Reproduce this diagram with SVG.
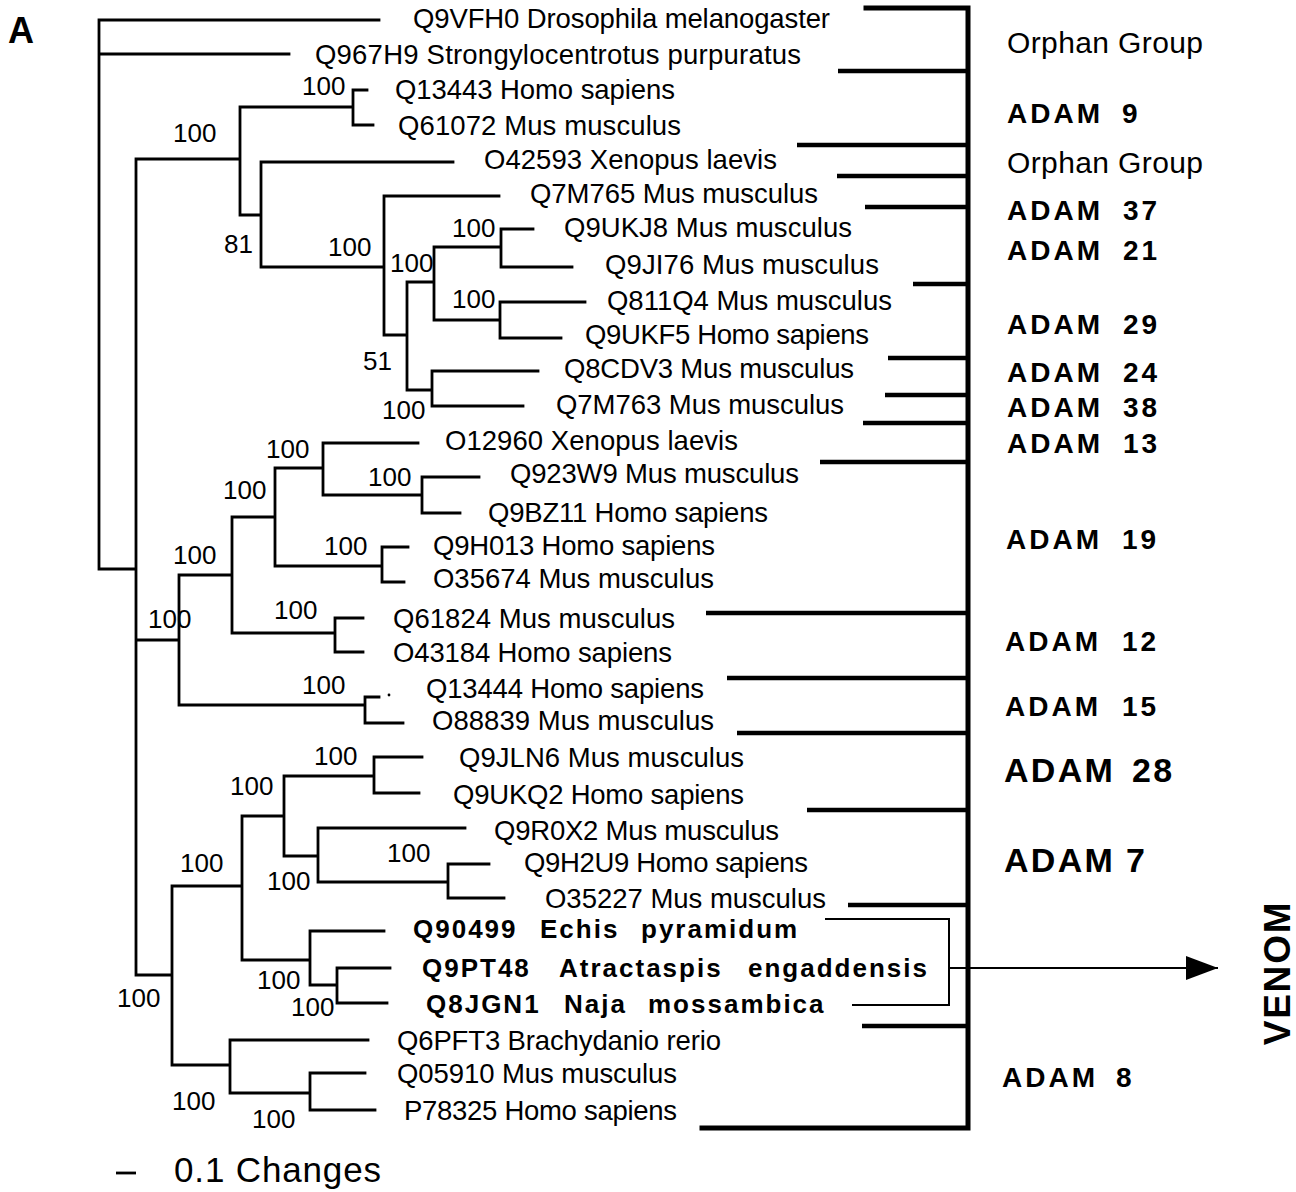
<svg xmlns="http://www.w3.org/2000/svg" width="1296" height="1192" viewBox="0 0 1296 1192">
<style>
text{font-family:"Liberation Sans",Arial,Helvetica,sans-serif;fill:#000}
.t{font-size:27.5px}
.b{font-size:26px;font-weight:bold;letter-spacing:2px}
.n{font-size:26px}
.g{font-size:28px;font-weight:bold;letter-spacing:3px}
.gl{font-size:34px;font-weight:bold;letter-spacing:2.3px}
.o{font-size:30px}
.br{stroke:#000;stroke-width:2.8;fill:none;stroke-linecap:square}
.bk{stroke:#000;stroke-width:5;fill:none;stroke-linecap:square}
.tk{stroke:#000;stroke-width:4.5;fill:none}
.thin{stroke:#000;stroke-width:2;fill:none}
</style>
<defs>
<marker id="ah" viewBox="0 0 32 24" refX="32" refY="12" markerWidth="32" markerHeight="24" markerUnits="userSpaceOnUse" orient="auto">
<path d="M0,0 L32,12 L0,24 z" fill="#000"/>
</marker>
</defs>
<rect width="1296" height="1192" fill="#fff"/>
<text x="8" y="43" style="font-size:36px;font-weight:bold">A</text>

<g id="connectors">
<path class="br" d="M99,20 V569 M99,20 H379 M99,54 H289 M99,569 H136
M136,159 V975 M136,159 H240 M136,640 H179 M136,975 H172
M240,107 V215 M240,107 H353 M353,90 V125 M353,90 H367 M353,125 H373 M240,215 H261
M261,162 V267 M261,162 H453 M261,267 H384
M384,196 V335 M384,196 H499 M384,335 H407
M407,282 V390 M407,282 H434 M407,390 H432
M434,247 V320 M434,247 H501 M434,320 H500
M501,229 V267 M501,229 H533 M501,267 H572
M500,302 V338 M500,302 H585 M500,338 H561
M432,371 V406 M432,371 H538 M432,406 H523
M179,575 V705 M179,575 H232 M179,705 H365
M232,517 V633 M232,517 H275 M232,633 H335
M275,468 V566 M275,468 H323 M275,566 H382
M323,443 V495 M323,443 H418 M323,495 H422
M422,477 V513 M422,477 H479 M422,513 H460
M382,547 V582 M382,547 H408 M382,582 H404
M335,618 V652 M335,618 H363 M335,652 H363
M365,697 V723 M365,697 H379 M365,723 H403
M172,886 V1065 M172,886 H242 M172,1065 H230
M242,816 V960 M242,816 H284 M242,960 H310
M284,776 V856 M284,776 H374 M284,856 H318
M374,757 V793 M374,757 H422 M374,793 H419
M318,828 V882 M318,828 H465 M318,882 H448
M448,864 V898 M448,864 H489 M448,898 H504
M310,931 V985 M310,931 H384 M310,985 H337
M337,968 V1003 M337,968 H390 M337,1003 H387
M230,1040 V1093 M230,1040 H368 M230,1093 H310
M310,1073 V1110 M310,1073 H365 M310,1110 H375"/>
<circle cx="389" cy="695" r="1.4" fill="#000"/>
<path class="bk" d="M866,8 H968 V1128 H702"/>
<path class="tk" d="M838,71 H968 M797,145 H968 M837,176 H968 M865,207 H968 M913,284 H968 M888,358 H968 M885,395 H968 M863,423 H968 M820,462 H968 M706,613 H968 M727,678 H968 M737,733 H968 M807,810 H968 M848,905 H968 M862,1026 H968"/>
<path class="thin" d="M825,919 H949 V1005 H852"/>
<path class="thin" d="M949,968 H1218" marker-end="url(#ah)"/>
</g>

<g id="support">
<text class="n" x="302" y="95">100</text>
<text class="n" x="173" y="142">100</text>
<text class="n" x="224" y="253">81</text>
<text class="n" x="328" y="256">100</text>
<text class="n" x="390" y="272">100</text>
<text class="n" x="452" y="237">100</text>
<text class="n" x="452" y="308">100</text>
<text class="n" x="363" y="370">51</text>
<text class="n" x="382" y="419">100</text>
<text class="n" x="266" y="458">100</text>
<text class="n" x="368" y="486">100</text>
<text class="n" x="223" y="499">100</text>
<text class="n" x="324" y="555">100</text>
<text class="n" x="173" y="564">100</text>
<text class="n" x="274" y="619">100</text>
<text class="n" x="148" y="628">100</text>
<text class="n" x="302" y="694">100</text>
<text class="n" x="314" y="765">100</text>
<text class="n" x="230" y="795">100</text>
<text class="n" x="180" y="872">100</text>
<text class="n" x="387" y="862">100</text>
<text class="n" x="267" y="890">100</text>
<text class="n" x="257" y="989">100</text>
<text class="n" x="291" y="1016">100</text>
<text class="n" x="117" y="1007">100</text>
<text class="n" x="172" y="1110">100</text>
<text class="n" x="252" y="1128">100</text>
</g>

<g id="leaf-Q9VFH0"><text class="t" x="413" y="28" textLength="417" lengthAdjust="spacing">Q9VFH0 Drosophila melanogaster</text></g>
<g id="leaf-Q967H9"><text class="t" x="315" y="64" textLength="486" lengthAdjust="spacing">Q967H9 Strongylocentrotus purpuratus</text></g>
<g id="leaf-Q13443"><text class="t" x="395" y="99" textLength="280" lengthAdjust="spacing">Q13443 Homo sapiens</text></g>
<g id="leaf-Q61072"><text class="t" x="398" y="135" textLength="283" lengthAdjust="spacing">Q61072 Mus musculus</text></g>
<g id="leaf-O42593"><text class="t" x="484" y="169" textLength="293" lengthAdjust="spacing">O42593 Xenopus laevis</text></g>
<g id="leaf-Q7M765"><text class="t" x="530" y="203" textLength="288" lengthAdjust="spacing">Q7M765 Mus musculus</text></g>
<g id="leaf-Q9UKJ8"><text class="t" x="564" y="237" textLength="288" lengthAdjust="spacing">Q9UKJ8 Mus musculus</text></g>
<g id="leaf-Q9JI76"><text class="t" x="605" y="274" textLength="274" lengthAdjust="spacing">Q9JI76 Mus musculus</text></g>
<g id="leaf-Q811Q4"><text class="t" x="607" y="310" textLength="285" lengthAdjust="spacing">Q811Q4 Mus musculus</text></g>
<g id="leaf-Q9UKF5"><text class="t" x="585" y="344" textLength="284" lengthAdjust="spacing">Q9UKF5 Homo sapiens</text></g>
<g id="leaf-Q8CDV3"><text class="t" x="564" y="378" textLength="290" lengthAdjust="spacing">Q8CDV3 Mus musculus</text></g>
<g id="leaf-Q7M763"><text class="t" x="556" y="414" textLength="288" lengthAdjust="spacing">Q7M763 Mus musculus</text></g>
<g id="leaf-O12960"><text class="t" x="445" y="450" textLength="293" lengthAdjust="spacing">O12960 Xenopus laevis</text></g>
<g id="leaf-Q923W9"><text class="t" x="510" y="483" textLength="289" lengthAdjust="spacing">Q923W9 Mus musculus</text></g>
<g id="leaf-Q9BZ11"><text class="t" x="488" y="522" textLength="280" lengthAdjust="spacing">Q9BZ11 Homo sapiens</text></g>
<g id="leaf-Q9H013"><text class="t" x="433" y="555" textLength="282" lengthAdjust="spacing">Q9H013 Homo sapiens</text></g>
<g id="leaf-O35674"><text class="t" x="433" y="588" textLength="281" lengthAdjust="spacing">O35674 Mus musculus</text></g>
<g id="leaf-Q61824"><text class="t" x="393" y="628" textLength="282" lengthAdjust="spacing">Q61824 Mus musculus</text></g>
<g id="leaf-O43184"><text class="t" x="393" y="662" textLength="279" lengthAdjust="spacing">O43184 Homo sapiens</text></g>
<g id="leaf-Q13444"><text class="t" x="426" y="698" textLength="278" lengthAdjust="spacing">Q13444 Homo sapiens</text></g>
<g id="leaf-O88839"><text class="t" x="432" y="730" textLength="282" lengthAdjust="spacing">O88839 Mus musculus</text></g>
<g id="leaf-Q9JLN6"><text class="t" x="459" y="767" textLength="285" lengthAdjust="spacing">Q9JLN6 Mus musculus</text></g>
<g id="leaf-Q9UKQ2"><text class="t" x="453" y="804" textLength="291" lengthAdjust="spacing">Q9UKQ2 Homo sapiens</text></g>
<g id="leaf-Q9R0X2"><text class="t" x="494" y="840" textLength="285" lengthAdjust="spacing">Q9R0X2 Mus musculus</text></g>
<g id="leaf-Q9H2U9"><text class="t" x="524" y="872" textLength="284" lengthAdjust="spacing">Q9H2U9 Homo sapiens</text></g>
<g id="leaf-O35227"><text class="t" x="545" y="908" textLength="281" lengthAdjust="spacing">O35227 Mus musculus</text></g>
<g id="leaf-Q90499"><text class="b" y="938"><tspan x="413">Q90499</tspan> <tspan x="540">Echis</tspan> <tspan x="641">pyramidum</tspan></text></g>
<g id="leaf-Q9PT48"><text class="b" y="977"><tspan x="422">Q9PT48</tspan> <tspan x="559">Atractaspis</tspan> <tspan x="748">engaddensis</tspan></text></g>
<g id="leaf-Q8JGN1"><text class="b" y="1013"><tspan x="426">Q8JGN1</tspan> <tspan x="564">Naja</tspan> <tspan x="648">mossambica</tspan></text></g>
<g id="leaf-Q6PFT3"><text class="t" x="397" y="1050" textLength="324" lengthAdjust="spacing">Q6PFT3 Brachydanio rerio</text></g>
<g id="leaf-Q05910"><text class="t" x="397" y="1083" textLength="280" lengthAdjust="spacing">Q05910 Mus musculus</text></g>
<g id="leaf-P78325"><text class="t" x="404" y="1120" textLength="273" lengthAdjust="spacing">P78325 Homo sapiens</text></g>

<g id="group-orphan1"><text class="o" x="1007" y="53" textLength="196" lengthAdjust="spacing">Orphan Group</text></g>
<g id="group-adam9"><text class="g" x="1007" y="123">ADAM <tspan x="1122">9</tspan></text></g>
<g id="group-orphan2"><text class="o" x="1007" y="173" textLength="196" lengthAdjust="spacing">Orphan Group</text></g>
<g id="group-adam37"><text class="g" x="1007" y="220">ADAM <tspan x="1123">37</tspan></text></g>
<g id="group-adam21"><text class="g" x="1007" y="260">ADAM <tspan x="1123">21</tspan></text></g>
<g id="group-adam29"><text class="g" x="1007" y="334">ADAM <tspan x="1123">29</tspan></text></g>
<g id="group-adam24"><text class="g" x="1007" y="382">ADAM <tspan x="1123">24</tspan></text></g>
<g id="group-adam38"><text class="g" x="1007" y="417">ADAM <tspan x="1123">38</tspan></text></g>
<g id="group-adam13"><text class="g" x="1007" y="453">ADAM <tspan x="1123">13</tspan></text></g>
<g id="group-adam19"><text class="g" x="1006" y="549">ADAM <tspan x="1122">19</tspan></text></g>
<g id="group-adam12"><text class="g" x="1005" y="651">ADAM <tspan x="1122">12</tspan></text></g>
<g id="group-adam15"><text class="g" x="1005" y="716">ADAM <tspan x="1122">15</tspan></text></g>
<g id="group-adam28"><text class="gl" x="1004" y="782">ADAM <tspan x="1132">28</tspan></text></g>
<g id="group-adam7"><text class="gl" x="1004" y="872">ADAM <tspan x="1126">7</tspan></text></g>
<g id="group-adam8"><text class="g" x="1002" y="1087">ADAM <tspan x="1116">8</tspan></text></g>
<g id="venom"><text transform="translate(1290,973) rotate(-90)" text-anchor="middle" style="font-size:37px;font-weight:bold;letter-spacing:1.8px">VENOM</text></g>

<g id="scale">
<path class="br" d="M116,1173 H136" style="stroke-linecap:butt"/>
<text x="174" y="1182" style="font-size:35px" textLength="207" lengthAdjust="spacing">0.1 Changes</text>
</g>
</svg>
